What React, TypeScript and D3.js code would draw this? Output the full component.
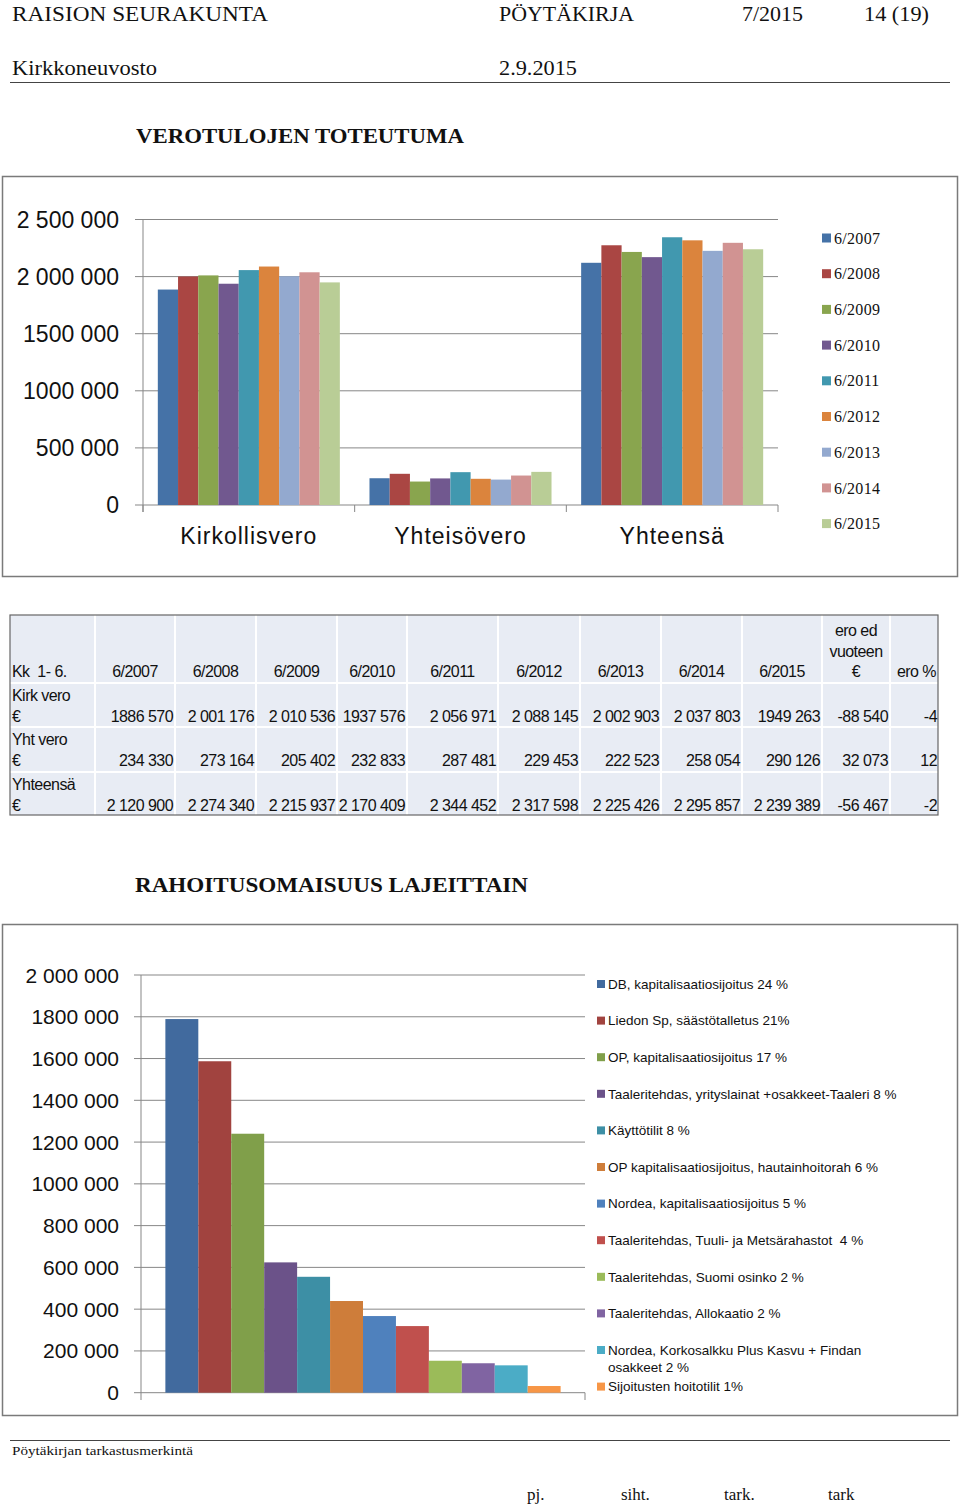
import React from 'react';
import * as d3 from 'd3';

// ---------- Data ----------
const seriesLabels = ['6/2007', '6/2008', '6/2009', '6/2010', '6/2011', '6/2012', '6/2013', '6/2014', '6/2015'];
const categories = ['Kirkollisvero', 'Yhteisövero', 'Yhteensä'];
const kirkVero = [1886570, 2001176, 2010536, 1937576, 2056971, 2088145, 2002903, 2037803, 1949263];
const yhtVero = [234330, 273164, 205402, 232833, 287481, 229453, 222523, 258054, 290126];
const yhteensa = [2120900, 2274340, 2215937, 2170409, 2344452, 2317598, 2225426, 2295857, 2239389];
const eroEur = [-88540, 32073, -56467];
const eroPct = ['-4', '12', '-2'];
const rowLabels = ['Kirk vero', 'Yht vero', 'Yhteensä'];
const yTicks1 = [0, 500000, 1000000, 1500000, 2000000, 2500000];
const yTickLabels1 = ['0', '500 000', '1000 000', '1500 000', '2 000 000', '2 500 000'];
const seriesColors = ['#4572A7', '#AA4643', '#89A54E', '#71588F', '#4198AF', '#DB843D', '#93A9CF', '#D19392', '#B9CD96'];

const assetLabels = [
  'DB, kapitalisaatiosijoitus 24 %',
  'Liedon Sp, säästötalletus 21%',
  'OP, kapitalisaatiosijoitus 17 %',
  'Taaleritehdas, yrityslainat +osakkeet-Taaleri 8 %',
  'Käyttötilit 8 %',
  'OP kapitalisaatiosijoitus, hautainhoitorah 6 %',
  'Nordea, kapitalisaatiosijoitus 5 %',
  'Taaleritehdas, Tuuli- ja Metsärahastot  4 %',
  'Taaleritehdas, Suomi osinko 2 %',
  'Taaleritehdas, Allokaatio 2 %',
  'Nordea, Korkosalkku Plus Kasvu + Findan\nosakkeet 2 %',
  'Sijoitusten hoitotilit 1%',
];
const assetValues = [1789000, 1587000, 1240000, 624000, 555000, 439000, 367000, 319000, 153000, 141000, 131000, 32000];
const assetColors = ['#416A9E', '#A1433F', '#809F4A', '#6B5289', '#3D8FA5', '#CE7D3A', '#4F81BD', '#C0504D', '#9BBB59', '#8064A2', '#4BACC6', '#F79646'];
const yTicks2 = [0, 200000, 400000, 600000, 800000, 1000000, 1200000, 1400000, 1600000, 1800000, 2000000];
const yTickLabels2 = ['0', '200 000', '400 000', '600 000', '800 000', '1000 000', '1200 000', '1400 000', '1600 000', '1800 000', '2 000 000'];

const chartData = [kirkVero, yhtVero, yhteensa];

const locale = d3.formatLocale({ decimal: ',', thousands: '\u00a0', grouping: [3], currency: ['', ' €'] });
const fmtNum = (n: number) => locale.format(',d')(n).replace(/^1\u00a0/, '1').replace('\u2212', '-');

const SANS = '"Liberation Sans", Arial, sans-serif';
const SERIF = '"Liberation Serif", "Times New Roman", serif';
const GRID = '#878787';

export default function App() {
  // Chart 1 scales
  const x0 = d3.scaleBand<string>().domain(categories).range([143, 778]).paddingInner(0.14).paddingOuter(0.07);
  const x1 = d3.scaleBand<string>().domain(seriesLabels).range([0, x0.bandwidth()]);
  const y1 = d3.scaleLinear().domain([0, 2500000]).range([505, 219.5]);
  const step1 = (778 - 143) / categories.length;

  // Chart 2 scales
  const xa = d3.scaleBand<string>().domain(assetLabels).range([141, 585]).paddingInner(0).paddingOuter(0.74);
  const y2 = d3.scaleLinear().domain([0, 2000000]).range([1392.7, 975]);

  // Table layout
  const colX = [10, 95, 175, 256, 337, 407, 498, 580, 661, 742, 822, 890, 938];
  const rowY = [615, 683, 727, 772, 815];
  const tableRows = rowLabels.map((lab, r) => ({
    label: lab,
    values: chartData[r].map(fmtNum),
    ero: fmtNum(eroEur[r]),
    pct: eroPct[r],
  }));

  return (
    <svg width={960} height={1508} style={{ position: 'absolute', left: 0, top: 0, background: '#fff' }}>
      <rect x={0} y={0} width={960} height={1508} fill="#fff" />
      {/* Header */}
      <g fontFamily={SERIF} fontSize={21} fill="#111">
        <text x={12} y={21} textLength={256} lengthAdjust="spacingAndGlyphs">RAISION SEURAKUNTA</text>
        <text x={499} y={21} textLength={135} lengthAdjust="spacingAndGlyphs">PÖYTÄKIRJA</text>
        <text x={742} y={21} textLength={61} lengthAdjust="spacingAndGlyphs">7/2015</text>
        <text x={864} y={21} textLength={65} lengthAdjust="spacingAndGlyphs">14 (19)</text>
        <text x={12} y={75} textLength={145} lengthAdjust="spacingAndGlyphs">Kirkkoneuvosto</text>
        <text x={499} y={75} textLength={78} lengthAdjust="spacingAndGlyphs">2.9.2015</text>
      </g>
      <line x1={10} x2={950} y1={82.5} y2={82.5} stroke="#444" strokeWidth={1.2} />
      <text x={136} y={143} fontFamily={SERIF} fontWeight="bold" fontSize={20} fill="#111" textLength={328} lengthAdjust="spacingAndGlyphs">VEROTULOJEN TOTEUTUMA</text>

      {/* Chart 1 */}
      <rect x={2.5} y={176.5} width={955} height={400} fill="#fff" stroke="#7a7a7a" strokeWidth={1.5} />
      <g>
        {yTicks1.map((t) => (
          <line key={t} x1={135} x2={778} y1={y1(t)} y2={y1(t)} stroke={GRID} strokeWidth={1} />
        ))}
        <line x1={143} x2={143} y1={219.5} y2={512} stroke={GRID} strokeWidth={1} />
        {d3.range(categories.length + 1).map((i) => (
          <line key={i} x1={143 + i * step1} x2={143 + i * step1} y1={505} y2={512} stroke={GRID} strokeWidth={1} />
        ))}
        {categories.map((c, ci) => (
          <g key={c} transform={`translate(${x0(c)},0)`}>
            {seriesLabels.map((s, si) => (
              <rect key={s} x={x1(s)} y={y1(chartData[ci][si])} width={x1.bandwidth()} height={505 - y1(chartData[ci][si])} fill={seriesColors[si]} />
            ))}
          </g>
        ))}
        {yTicks1.map((t, i) => (
          <text key={t} x={119} y={y1(t)} dy="0.36em" textAnchor="end" fontFamily={SANS} fontSize={23} fill="#111">{yTickLabels1[i]}</text>
        ))}
        {categories.map((c) => (
          <text key={c} x={(x0(c) as number) + x0.bandwidth() / 2} y={536} dy="0.36em" textAnchor="middle" fontFamily={SANS} fontSize={23} letterSpacing={1} fill="#111">{c}</text>
        ))}
        {seriesLabels.map((s, i) => (
          <g key={s} transform={`translate(822,${238 + i * 35.7})`}>
            <rect x={0} y={-4.5} width={9} height={9} fill={seriesColors[i]} />
            <text x={12} y={0} dy="0.35em" fontFamily={SERIF} fontSize={16} letterSpacing={0.3} fill="#111">{s}</text>
          </g>
        ))}
      </g>

      {/* Table */}
      <g fontFamily={SANS} fontSize={16} letterSpacing={-0.55} fill="#111">
        <rect x={colX[0]} y={rowY[0]} width={colX[colX.length - 1] - colX[0]} height={rowY[rowY.length - 1] - rowY[0]} fill="#E8ECF4" />
        {colX.slice(1, -1).map((x) => (
          <line key={x} x1={x} x2={x} y1={rowY[0]} y2={rowY[4]} stroke="#fff" strokeWidth={2} />
        ))}
        {rowY.slice(1, -1).map((y) => (
          <line key={y} x1={colX[0]} x2={colX[colX.length - 1]} y1={y} y2={y} stroke="#fff" strokeWidth={2} />
        ))}
        <rect x={colX[0]} y={rowY[0]} width={colX[colX.length - 1] - colX[0]} height={rowY[4] - rowY[0]} fill="none" stroke="#666" strokeWidth={1.2} />
        <text x={12} y={677} xmlSpace="preserve">{'Kk  1- 6.'}</text>
        {seriesLabels.map((s, i) => (
          <text key={s} x={(colX[i + 1] + colX[i + 2]) / 2} y={677} textAnchor="middle">{s}</text>
        ))}
        <text x={(colX[10] + colX[11]) / 2} y={636} textAnchor="middle">ero ed</text>
        <text x={(colX[10] + colX[11]) / 2} y={657} textAnchor="middle">vuoteen</text>
        <text x={(colX[10] + colX[11]) / 2} y={677} textAnchor="middle">€</text>
        <text x={936} y={677} textAnchor="end">ero %</text>
        {tableRows.map((row, r) => {
          const top = rowY[r + 1];
          return (
            <g key={row.label}>
              <text x={12} y={top + 18}>{row.label}</text>
              <text x={12} y={top + 39}>€</text>
              {row.values.map((v, i) => (
                <text key={i} x={colX[i + 2] - 2} y={top + 39} textAnchor="end">{v}</text>
              ))}
              <text x={colX[11] - 2} y={top + 39} textAnchor="end">{row.ero}</text>
              <text x={colX[12] - 1} y={top + 39} textAnchor="end">{row.pct}</text>
            </g>
          );
        })}
      </g>

      <text x={135} y={892} fontFamily={SERIF} fontWeight="bold" fontSize={20} fill="#111" textLength={393} lengthAdjust="spacingAndGlyphs">RAHOITUSOMAISUUS LAJEITTAIN</text>

      {/* Chart 2 */}
      <rect x={2.5} y={924.5} width={955} height={491} fill="#fff" stroke="#7a7a7a" strokeWidth={1.5} />
      <g>
        {yTicks2.map((t) => (
          <line key={t} x1={134} x2={585} y1={y2(t)} y2={y2(t)} stroke={GRID} strokeWidth={1} />
        ))}
        <line x1={141} x2={141} y1={975} y2={1400} stroke={GRID} strokeWidth={1} />
        <line x1={585} x2={585} y1={1392.7} y2={1400} stroke={GRID} strokeWidth={1} />
        {assetLabels.map((a, i) => (
          <rect key={a} x={xa(a)} y={y2(assetValues[i])} width={xa.bandwidth()} height={1392.7 - y2(assetValues[i])} fill={assetColors[i]} />
        ))}
        {yTicks2.map((t, i) => (
          <text key={t} x={119} y={y2(t)} dy="0.36em" textAnchor="end" fontFamily={SANS} fontSize={21} fill="#111">{yTickLabels2[i]}</text>
        ))}
        {assetLabels.map((a, i) => {
          const lines = a.split('\n');
          const cy = 984 + i * 36.6;
          return (
            <g key={a}>
              <rect x={597} y={cy - 4} width={8} height={8} fill={assetColors[i]} />
              {lines.map((l, li) => (
                <text key={li} x={608} y={cy + li * 17} dy="0.36em" xmlSpace="preserve" fontFamily={SANS} fontSize={13.5} fill="#111">{l}</text>
              ))}
            </g>
          );
        })}
      </g>

      {/* Footer */}
      <line x1={10} x2={950} y1={1440.5} y2={1440.5} stroke="#444" strokeWidth={1.2} />
      <text x={12} y={1455} fontFamily={SERIF} fontSize={13} fill="#111" textLength={181} lengthAdjust="spacingAndGlyphs">Pöytäkirjan tarkastusmerkintä</text>
      <g fontFamily={SERIF} fontSize={17} fill="#111">
        <text x={527} y={1500}>pj.</text>
        <text x={621} y={1500}>siht.</text>
        <text x={724} y={1500}>tark.</text>
        <text x={828} y={1500}>tark</text>
      </g>
    </svg>
  );
}
